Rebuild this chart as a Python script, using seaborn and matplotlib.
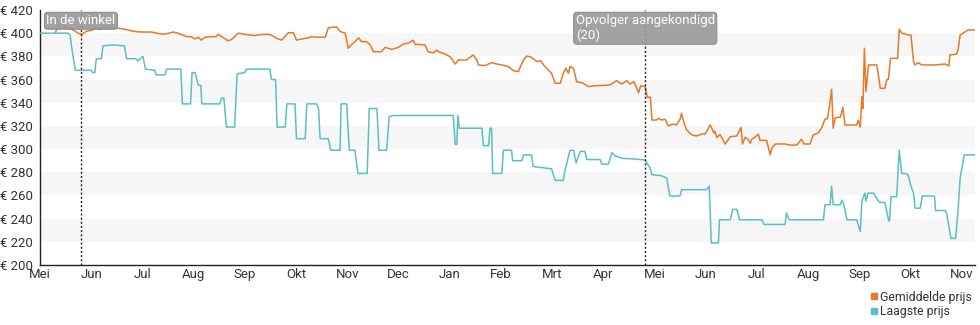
import matplotlib
matplotlib.use("Agg")
import matplotlib.pyplot as plt
import seaborn as sns
import pandas as pd
from matplotlib.lines import Line2D

# ---- data (x = months since 1 May of the first year) ----
month_labels = ["Mei", "Jun", "Jul", "Aug", "Sep", "Okt", "Nov", "Dec", "Jan",
                "Feb", "Mrt", "Apr", "Mei", "Jun", "Jul", "Aug", "Sep", "Okt", "Nov"]
y_ticks = [200, 220, 240, 260, 280, 300, 320, 340, 360, 380, 400, 420]

laagste_t = [0.00, 0.55, 0.59, 0.61, 0.69, 1.00, 1.03, 1.07, 1.10, 1.20, 1.23, 1.43, 1.65, 1.69,
             1.88, 1.91, 2.01, 2.06, 2.24, 2.27, 2.44, 2.47, 2.75, 2.78, 2.94, 2.97, 3.03, 3.09,
             3.14, 3.16, 3.51, 3.55, 3.59, 3.64, 3.80, 3.85, 4.00, 4.03, 4.49, 4.52, 4.60, 4.63,
             4.79, 4.82, 4.98, 5.01, 5.18, 5.21, 5.40, 5.44, 5.47, 5.63, 5.68, 5.86, 5.88, 5.99,
             6.04, 6.15, 6.21, 6.39, 6.43, 6.58, 6.62, 6.77, 6.82, 6.90, 8.07, 8.11, 8.14, 8.16,
             8.19, 8.63, 8.66, 8.76, 8.79, 8.82, 8.84, 9.02, 9.05, 9.21, 9.23, 9.41, 9.44, 9.60,
             9.63, 9.80, 9.99, 10.06, 10.22, 10.25, 10.29, 10.35, 10.42, 10.47, 10.55, 10.64,
             10.68, 10.94, 10.97, 11.10, 11.17, 11.23, 11.39, 11.59, 11.82, 11.85, 11.91, 11.95,
             12.14, 12.24, 12.30, 12.50, 12.53, 13.02, 13.07, 13.11, 13.25, 13.27, 13.48, 13.53,
             13.61, 13.66, 14.10, 14.14, 14.55, 14.58, 14.63, 15.30, 15.33, 15.43, 15.46, 15.49,
             15.63, 15.66, 15.70, 15.76, 15.95, 16.02, 16.05, 16.08, 16.11, 16.13, 16.17, 16.28,
             16.36, 16.41, 16.50, 16.57, 16.59, 16.62, 16.73, 16.78, 16.83, 16.89, 16.95, 17.01,
             17.06, 17.09, 17.19, 17.23, 17.47, 17.49, 17.68, 17.71, 17.75, 17.79, 17.88, 17.92,
             17.97, 18.05, 18.26]
laagste_prijs = [400, 400, 398, 390, 368, 368, 366, 366, 378, 378, 389, 390, 389, 378,
                 378, 376, 380, 369, 368, 364, 364, 369, 369, 339, 339, 366, 366, 355,
                 355, 339, 339, 344, 344, 319, 319, 365, 366, 369, 369, 360, 360, 319,
                 319, 339, 339, 309, 309, 339, 339, 335, 309, 309, 299, 299, 339, 339,
                 299, 299, 279, 279, 335, 335, 299, 299, 328, 329, 329, 304, 304, 329,
                 318, 318, 303, 303, 318, 318, 279, 279, 299, 299, 290, 290, 295, 295,
                 285, 284, 283, 273, 273, 281, 288, 299, 299, 288, 298, 298,
                 291, 291, 287, 287, 297, 294, 292, 291.5, 290.6, 288, 284, 278,
                 277, 275, 259.5, 259.5, 265, 265, 268, 219, 219, 239, 239, 248,
                 248, 239, 239, 235, 235, 245, 239, 239, 252, 252, 268, 252,
                 252, 256, 252, 239, 239, 229, 254, 259, 262, 255, 262, 262,
                 256, 254, 254, 239, 238, 259, 259, 299, 279, 279, 278, 268,
                 262, 249, 249, 259.5, 259.5, 247, 247, 244, 233, 223, 223, 242,
                 275, 295, 295]

gemiddelde_t = [0.29, 0.35, 0.42, 0.49, 0.59, 0.68, 0.74, 0.82, 0.91, 1.01, 1.11, 1.17, 1.24,
                1.30, 1.40, 1.50, 1.60, 1.69, 1.79, 1.89, 2.02, 2.18, 2.28, 2.41, 2.51, 2.60,
                2.69, 2.77, 2.87, 2.95, 3.03, 3.09, 3.15, 3.22, 3.34, 3.44, 3.48, 3.55, 3.67,
                3.74, 3.87, 4.00, 4.19, 4.32, 4.45, 4.51, 4.62, 4.72, 4.85, 4.95, 5.01, 5.11,
                5.24, 5.31, 5.43, 5.57, 5.63, 5.79, 5.86, 5.96, 6.02, 6.09, 6.15, 6.22, 6.28,
                6.38, 6.45, 6.51, 6.61, 6.67, 6.74, 6.87, 7.00, 7.10, 7.19, 7.29, 7.32, 7.52,
                7.58, 7.68, 7.75, 7.78, 7.91, 8.01, 8.11, 8.17, 8.33, 8.46, 8.53, 8.56, 8.69,
                8.82, 8.92, 9.02, 9.15, 9.24, 9.34, 9.44, 9.51, 9.60, 9.70, 9.77, 9.86, 9.99,
                10.06, 10.16, 10.22, 10.27, 10.32, 10.35, 10.42, 10.48, 10.61, 10.71, 10.81,
                11.00, 11.13, 11.26, 11.36, 11.46, 11.52, 11.60, 11.69, 11.73, 11.82, 11.86,
                11.92, 11.95, 12.04, 12.08, 12.14, 12.21, 12.27, 12.36, 12.43, 12.50, 12.53,
                12.58, 12.63, 12.73, 12.82, 12.92, 12.99, 13.09, 13.16, 13.18, 13.22, 13.28,
                13.38, 13.48, 13.61, 13.69, 13.72, 13.77, 13.83, 13.87, 13.90, 13.96, 14.03,
                14.06, 14.19, 14.22, 14.26, 14.29, 14.36, 14.55, 14.65, 14.78, 14.87, 14.92,
                15.04, 15.10, 15.20, 15.26, 15.33, 15.38, 15.43, 15.46, 15.49, 15.53, 15.63,
                15.68, 15.72, 15.95, 15.98, 16.02, 16.05, 16.07, 16.10, 16.13, 16.18, 16.34,
                16.37, 16.41, 16.50, 16.54, 16.57, 16.61, 16.75, 16.78, 16.83, 16.89, 16.96,
                17.01, 17.06, 17.09, 17.15, 17.22, 17.48, 17.68, 17.75, 17.77, 17.90, 17.93,
                17.97, 18.07, 18.13, 18.26]
gemiddelde_prijs = [400, 405, 409, 405, 404, 402, 400, 399, 401.7, 402.5, 404.7, 403, 407,
                    405.5, 404.7, 404.5, 403.8, 403, 402, 401.2, 401, 401, 400, 399, 400, 401,
                    400, 398.7, 397, 397, 395, 396.5, 394, 396.5, 397, 397, 399, 397, 393.5,
                    394.5, 400, 399, 398, 398.8, 399, 398.5, 395.6, 394, 400.4, 400.4, 394, 395,
                    396, 397, 396.5, 396.5, 404.6, 405.4, 401.5, 400, 387, 390.5, 392.7, 396, 392.7,
                    392.7, 389.8, 384, 384, 384, 387.8, 386, 387.8, 390.7, 391.3, 394, 390.5, 389.8,
                    384, 383, 385.5, 384, 382, 379.7, 373.4, 376.9, 376.9, 381.2, 376.9, 372.6, 372,
                    374.6, 373.4, 372.6, 371.2, 367.7, 366.8, 376.9, 380.3, 379.2, 375.5, 376.3, 371.2, 365.4,
                    356.8, 356.8, 365.4, 369.7, 365.4, 371.2, 369.7, 358.2, 356.8, 353.9, 354.5,
                    355, 355.3, 359, 356.1, 359, 356.1, 358.2, 348.7, 354.5, 354, 344.7,
                    344.7, 325.1, 325.1, 326.5, 325.1, 325.7, 319.9, 321.6, 320.8, 325.7, 330.9,
                    322, 316.5, 312.2, 311.3, 313, 313, 320.8, 313.9, 315.5, 309.9, 312.6,
                    304.4, 310.7, 311.3, 318.8, 304.4, 310.2, 308.5, 305, 308.5, 310.2, 313,
                    307.5, 307.5, 302, 295, 300.5, 304.4, 304.4, 303.5, 303.5, 308.5, 304.4,
                    304.4, 312.2, 314, 318, 325.7, 326.5, 341, 351.6, 318, 327, 327.5,
                    336, 320.8, 320.8, 325, 318.8, 345.2, 335, 387, 349.6, 372.6, 372.6,
                    365, 352.4, 352.4, 360.2, 360.2, 378.3, 378.3, 403.4, 400, 399.4, 398.4,
                    398.4, 375.5, 372.6, 374.6, 372.6, 372.6, 373.4, 371.7, 381.2, 382, 385.5,
                    398.4, 401.3, 402.8, 402.8]

events_t = [0.80, 11.82]
events_text = ["In de winkel", "Opvolger aangekondigd\n(20)"]

series_names = ["Gemiddelde prijs", "Laagste prijs"]
colors = ["#e8782a", "#5bbfc6"]

# ---- build tidy data ----
df = pd.concat([
    pd.DataFrame({"t": gemiddelde_t, "prijs": gemiddelde_prijs, "serie": series_names[0]}),
    pd.DataFrame({"t": laagste_t, "prijs": laagste_prijs, "serie": series_names[1]}),
], ignore_index=True)

sns.set_style("white")
plt.rcParams["font.family"] = ["Roboto", "DejaVu Sans"]

fig = plt.figure(figsize=(9.8, 3.25), dpi=100)
ax = fig.add_axes([40 / 980, 1 - 265 / 325, (975 - 40) / 980, (265 - 10) / 325])

# alternating bands
for lo in [220, 260, 300, 340, 380]:
    ax.axhspan(lo, lo + 20, color="#f6f6f6", zorder=0, lw=0)

sns.lineplot(data=df, x="t", y="prijs", hue="serie", palette=dict(zip(series_names, colors)),
             estimator=None, sort=False, linewidth=1.1, legend=False, ax=ax, zorder=3)

ax.set_xlim(0, 18.26)
ax.set_ylim(200, 420)

ax.set_xticks(range(len(month_labels)))
ax.set_xticklabels(month_labels)
ax.set_yticks(y_ticks)
ax.set_yticklabels([f"€ {v}" for v in y_ticks])
ax.set_xlabel("")
ax.set_ylabel("")

for s in ["top", "right"]:
    ax.spines[s].set_visible(False)
for s in ["left", "bottom"]:
    ax.spines[s].set_color("#222222")
    ax.spines[s].set_linewidth(1.0)

ax.tick_params(axis="y", direction="out", length=4, width=1, color="#222222",
               labelsize=9.5, labelcolor="#333333", pad=1)
ax.tick_params(axis="x", direction="inout", length=5, width=1, color="#222222",
               labelsize=9.5, labelcolor="#333333", pad=0)

# event markers
for t, txt in zip(events_t, events_text):
    ax.axvline(t, color="#222222", linestyle=(0, (1.5, 1.5)), linewidth=1.0, zorder=4)
    ax.text(t, 416.3, txt, ha="center", va="top", multialignment="left",
            color="white", fontsize=9.5, zorder=6, linespacing=1.15,
            bbox=dict(boxstyle="round,pad=0.15,rounding_size=0.25", fc="#9a9a9a",
                      ec="#8a8a8a", lw=0.8, alpha=0.92))

handles = [Line2D([0], [0], marker="s", linestyle="none", markersize=5,
                  markerfacecolor=c, markeredgecolor=c) for c in colors]
fig.legend(handles, series_names, loc="upper right", bbox_to_anchor=(0.999, 0.128),
           frameon=False, fontsize=8.8, handletextpad=0.0, labelspacing=0.1,
           borderpad=0.1, handlelength=0.9, labelcolor="#333333")

fig.savefig("out.png", dpi=100)
